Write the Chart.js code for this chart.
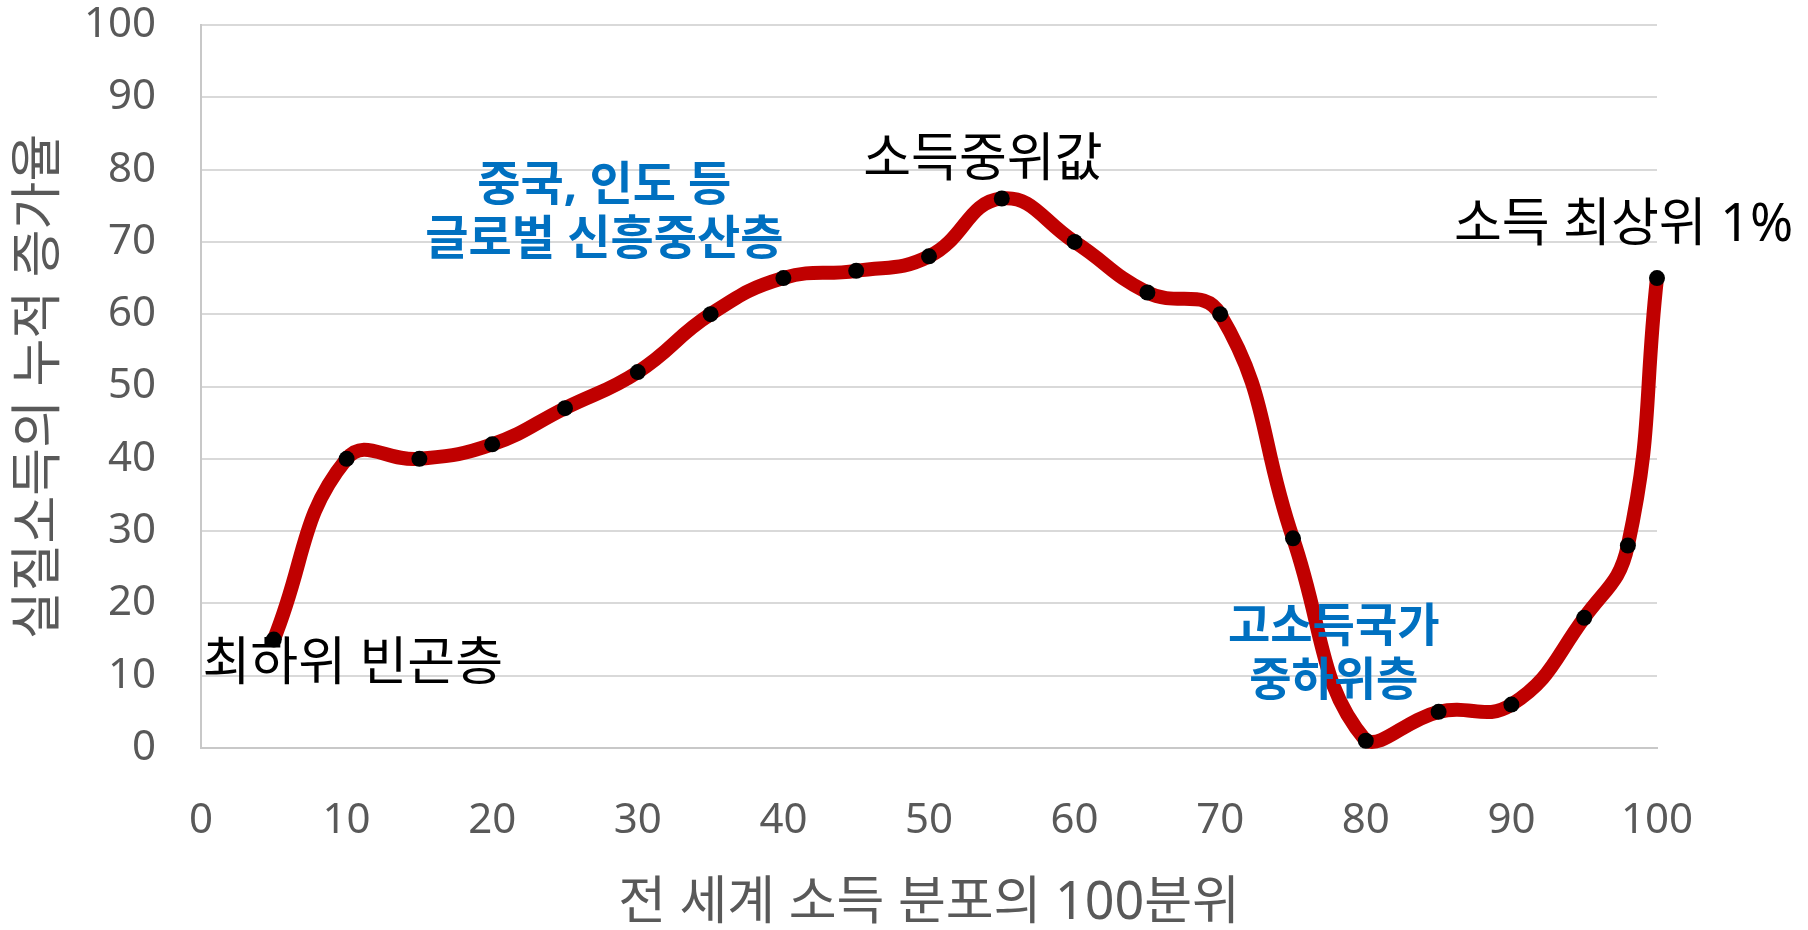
<!DOCTYPE html>
<html>
<head>
<meta charset="utf-8">
<script src="https://cdn.jsdelivr.net/npm/chart.js@4/dist/chart.umd.min.js"></script>
<style>
  html, body { margin: 0; padding: 0; background: #ffffff; }
  #wrap { width: 1808px; height: 930px; }
</style>
</head>
<body>
<div id="wrap"><canvas id="chart" width="1808" height="930"></canvas></div>
<script>
// 백분위 (x) 와 누적 증가율 (y)
const percentiles = [5, 10, 15, 20, 25, 30, 35, 40, 45, 50, 55, 60, 65, 70, 75, 80, 85, 90, 95, 98, 100];
const growthValues = [15, 40, 40, 42, 47, 52, 60, 65, 66, 68, 76, 70, 63, 60, 29, 1, 5, 6, 18, 28, 65];
const xTicks = [0, 10, 20, 30, 40, 50, 60, 70, 80, 90, 100];
const yTicks = [0, 10, 20, 30, 40, 50, 60, 70, 80, 90, 100];

// 주석 텍스트 (데이터 좌표 기준)
const annotations = [
  { lines: ['최하위 빈곤층'], x: 0.1, y: 11.5, align: 'left', color: '#000000', bold: false, size: 52 },
  { lines: ['소득중위값'], x: 53.7, y: 81.2, align: 'center', color: '#000000', bold: false, size: 52 },
  { lines: ['소득 최상위 1%'], x: 97.7, y: 72.2, align: 'center', color: '#000000', bold: false, size: 52 },
  { lines: ['중국, 인도 등', '글로벌 신흥중산층'], x: 27.7, y: 77.6, align: 'center', color: '#0070C0', bold: true, size: 47 },
  { lines: ['고소득국가', '중하위층'], x: 77.8, y: 16.6, align: 'center', color: '#0070C0', bold: true, size: 46 }
];

const FONT = "'Noto Sans', 'Noto Sans CJK KR', sans-serif";

//주석을 그리는 플러그인
const annotationPlugin = {
  id: 'annotations',
  afterDatasetsDraw(chart) {
    const ctx = chart.ctx;
    const xs = chart.scales.x, ys = chart.scales.y;
    ctx.save();
    ctx.textBaseline = 'middle';
    annotations.forEach(a => {
      ctx.font = (a.bold ? 'bold ' : '') + a.size + 'px ' + FONT;
      ctx.fillStyle = a.color;
      ctx.textAlign = a.align;
      const px = xs.getPixelForValue(a.x);
      let py = ys.getPixelForValue(a.y);
      a.lines.forEach(line => {
        ctx.fillText(line, px, py);
        py += 54;
      });
    });
    ctx.restore();
  }
};

const ctx = document.getElementById('chart').getContext('2d');
new Chart(ctx, {
  type: 'line',
  data: {
    datasets: [{
      data: percentiles.map((p, i) => ({ x: p, y: growthValues[i] })),
      borderColor: '#C00000',
      borderWidth: 14,
      tension: 0.45,
      pointRadius: 8,
      pointBackgroundColor: '#000000',
      pointBorderWidth: 0,
      clip: 10,
      fill: false
    }]
  },
  options: {
    responsive: false,
    animation: false,
    layout: { padding: { left: 0, right: 151, top: 25, bottom: 0 } },
    plugins: { legend: { display: false }, tooltip: { enabled: false } },
    scales: {
      x: {
        type: 'linear',
        min: 0, max: 100,
        afterBuildTicks: s => { s.ticks = xTicks.map(v => ({ value: v })); },
        afterFit: s => { s.height = 182; s.paddingLeft = 0; s.paddingRight = 0; },
        grid: { display: false, drawTicks: false },
        border: { color: '#c8c8c8', width: 2 },
        ticks: { padding: 48, color: '#595959', font: { family: FONT, size: 42 } },
        title: {
          display: true, text: '전 세계 소득 분포의 100분위', color: '#595959',
          font: { family: FONT, size: 52, lineHeight: 1 }, padding: { top: 0, bottom: 0 }
        }
      },
      y: {
        min: 0, max: 100,
        afterBuildTicks: s => { s.ticks = yTicks.map(v => ({ value: v })); },
        afterFit: s => { s.width = 201; s.paddingTop = 0; s.paddingBottom = 0; },
        grid: { color: '#d9d9d9', lineWidth: 2, drawTicks: false },
        border: { color: '#c8c8c8', width: 2 },
        ticks: { padding: 45, color: '#595959', font: { family: FONT, size: 42 } },
        title: {
          display: true, text: '실질소득의 누적 증가율', color: '#595959',
          font: { family: FONT, size: 52, lineHeight: 1 }, padding: { top: 14, bottom: 0 }
        }
      }
    }
  },
  plugins: [annotationPlugin]
});
</script>
</body>
</html>
